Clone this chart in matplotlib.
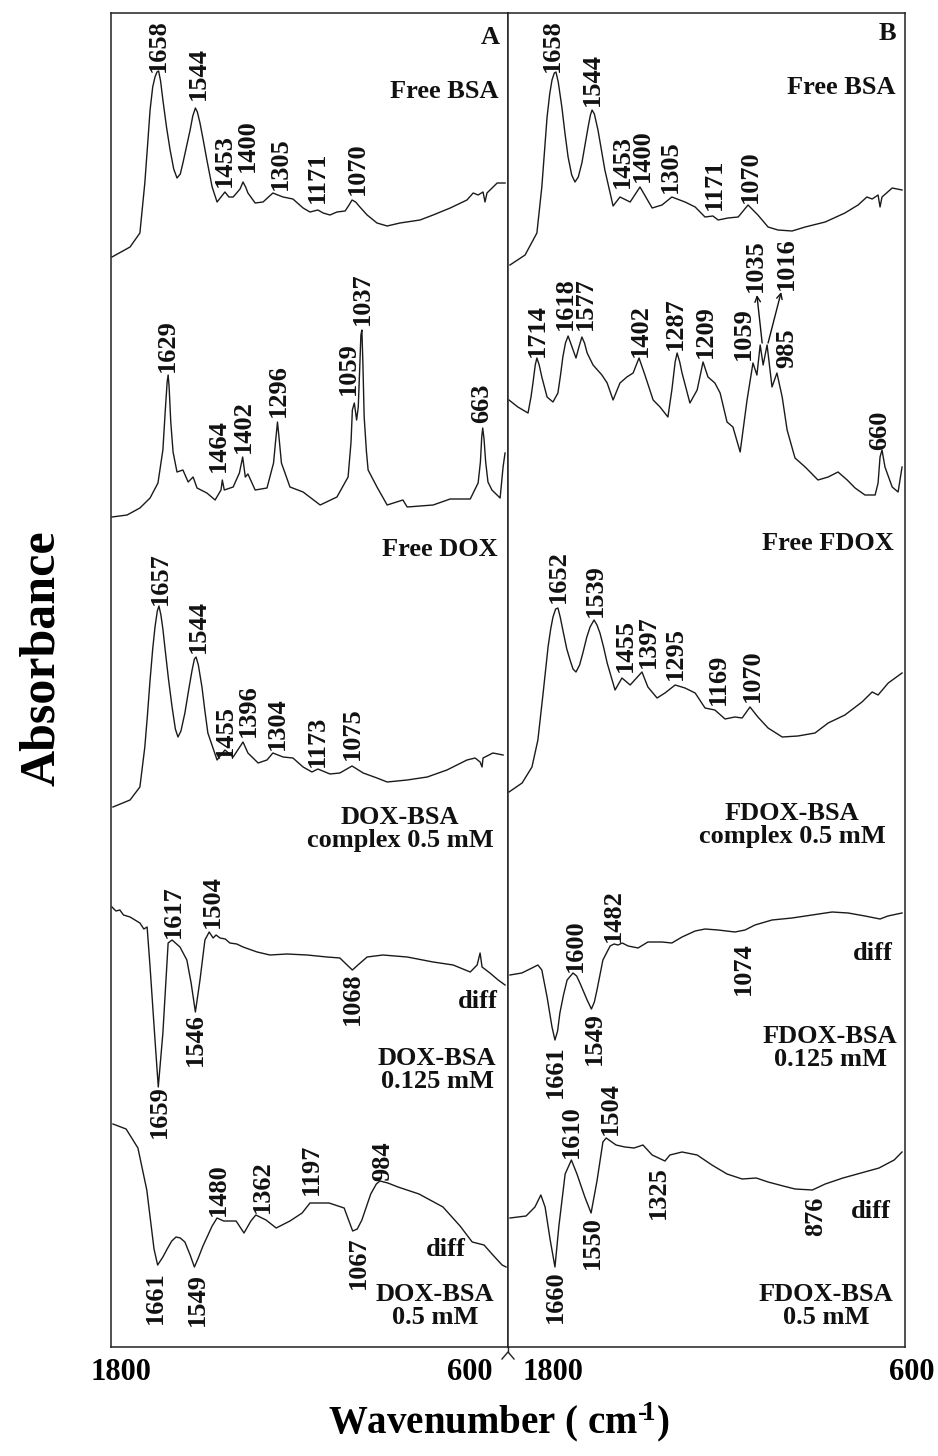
import matplotlib
matplotlib.use("Agg")
import matplotlib.pyplot as plt
from matplotlib.lines import Line2D

plt.rcParams['font.family'] = ['Liberation Serif', 'DejaVu Serif']
plt.rcParams['font.weight'] = 'bold'
plt.rcParams['mathtext.fontset'] = 'custom'
plt.rcParams['mathtext.rm'] = 'Liberation Serif:bold'
plt.rcParams['mathtext.default'] = 'rm'

# spectra: (wavenumber cm-1, stacked absorbance a.u.)
free_bsa_a = [(1800, 10.90), (1745, 11.00), (1715, 11.14), (1700, 11.64), (1692, 12.00), (1684, 12.37),
              (1676, 12.60), (1669, 12.70), (1663, 12.75), (1658, 12.76), (1652, 12.66), (1645, 12.47),
              (1634, 12.20), (1623, 11.97), (1612, 11.78), (1602, 11.69), (1592, 11.73), (1584, 11.84),
              (1572, 12.02), (1562, 12.17), (1554, 12.31), (1546, 12.39), (1540, 12.35), (1532, 12.24),
              (1521, 12.05), (1511, 11.87), (1495, 11.60), (1480, 11.45), (1468, 11.50), (1456, 11.55),
              (1444, 11.50), (1431, 11.50), (1410, 11.58), (1401, 11.65), (1393, 11.60), (1386, 11.54),
              (1364, 11.44), (1340, 11.45), (1320, 11.51), (1310, 11.54), (1295, 11.52), (1279, 11.50),
              (1249, 11.48), (1218, 11.39), (1197, 11.35), (1173, 11.37), (1157, 11.34), (1136, 11.32),
              (1115, 11.35), (1090, 11.36), (1078, 11.42), (1069, 11.47), (1058, 11.45), (1045, 11.40),
              (1023, 11.32), (993, 11.24), (962, 11.21), (923, 11.24), (862, 11.27), (822, 11.32),
              (770, 11.39), (719, 11.47), (700, 11.54), (685, 11.52), (670, 11.55), (664, 11.45),
              (658, 11.54), (627, 11.64), (603, 11.64)]

free_dox_a = [(1800, 8.30), (1754, 8.32), (1715, 8.39), (1684, 8.49), (1660, 8.64), (1645, 8.97),
              (1638, 9.35), (1632, 9.65), (1629, 9.72), (1626, 9.60), (1621, 9.25), (1614, 8.95),
              (1602, 8.75), (1584, 8.77), (1568, 8.65), (1553, 8.70), (1541, 8.59), (1511, 8.54),
              (1486, 8.47), (1468, 8.57), (1464, 8.67), (1458, 8.57), (1431, 8.60), (1412, 8.74),
              (1402, 8.90), (1394, 8.70), (1386, 8.73), (1364, 8.57), (1328, 8.59), (1308, 8.84),
              (1302, 9.05), (1296, 9.25), (1290, 9.05), (1284, 8.84), (1258, 8.60), (1218, 8.55),
              (1166, 8.42), (1115, 8.50), (1081, 8.70), (1072, 9.05), (1068, 9.37), (1062, 9.44),
              (1055, 9.27), (1050, 9.40), (1046, 9.75), (1042, 10.12), (1039, 10.17), (1036, 9.85),
              (1032, 9.30), (1025, 8.95), (1020, 8.77), (993, 8.60), (962, 8.42), (914, 8.47),
              (901, 8.40), (822, 8.42), (770, 8.48), (709, 8.48), (685, 8.64), (678, 8.85),
              (674, 9.10), (671, 9.19), (667, 9.08), (662, 8.85), (655, 8.65), (643, 8.57),
              (618, 8.49), (609, 8.80), (603, 8.94)]

dox_bsa_cplx_a = [(1797, 5.40), (1745, 5.47), (1715, 5.60), (1700, 6.00), (1692, 6.32), (1684, 6.67),
                  (1676, 6.98), (1669, 7.20), (1662, 7.36), (1657, 7.41), (1651, 7.32), (1645, 7.18),
                  (1639, 7.00), (1628, 6.68), (1617, 6.40), (1607, 6.18), (1599, 6.10), (1590, 6.16),
                  (1578, 6.34), (1566, 6.58), (1556, 6.77), (1549, 6.88), (1544, 6.90), (1537, 6.82),
                  (1526, 6.60), (1517, 6.36), (1508, 6.14), (1480, 5.87), (1456, 5.97), (1431, 5.90),
                  (1401, 6.05), (1386, 5.94), (1355, 5.84), (1328, 5.87), (1310, 5.94), (1279, 5.90),
                  (1249, 5.89), (1218, 5.80), (1191, 5.75), (1173, 5.78), (1136, 5.73), (1106, 5.74),
                  (1069, 5.81), (1035, 5.74), (993, 5.69), (962, 5.65), (901, 5.67), (840, 5.70),
                  (780, 5.77), (719, 5.87), (694, 5.89), (679, 5.85), (673, 5.80), (670, 5.89),
                  (640, 5.94), (609, 5.92)]

dox_diff_0125_a = [(1800, 4.40), (1788, 4.36), (1776, 4.37), (1765, 4.32), (1745, 4.30), (1730, 4.27),
                   (1715, 4.24), (1703, 4.18), (1693, 4.20), (1684, 3.80), (1669, 3.07), (1659, 2.60),
                   (1645, 3.14), (1629, 4.04), (1617, 4.07), (1593, 4.00), (1572, 3.87), (1559, 3.64),
                   (1546, 3.35), (1532, 3.67), (1517, 4.07), (1504, 4.15), (1492, 4.09), (1483, 4.12),
                   (1471, 4.09), (1455, 4.08), (1441, 4.04), (1420, 4.03), (1401, 4.00), (1358, 3.95),
                   (1319, 3.92), (1267, 3.93), (1206, 3.92), (1145, 3.90), (1106, 3.89), (1084, 3.82),
                   (1068, 3.77), (1051, 3.82), (1023, 3.90), (975, 3.92), (901, 3.90), (822, 3.85),
                   (761, 3.82), (709, 3.75), (688, 3.82), (679, 3.94), (673, 3.80), (649, 3.74),
                   (624, 3.67), (603, 3.62)]

dox_diff_05_a = [(1797, 2.23), (1757, 2.18), (1721, 1.99), (1694, 1.57), (1672, 0.98), (1661, 0.82),
                 (1645, 0.90), (1632, 0.98), (1618, 1.06), (1605, 1.10), (1592, 1.09), (1578, 1.05),
                 (1562, 0.92), (1549, 0.80), (1536, 0.90), (1523, 1.01), (1495, 1.21),
                 (1480, 1.29), (1460, 1.26), (1441, 1.26), (1422, 1.26), (1398, 1.14), (1377, 1.26),
                 (1362, 1.32), (1331, 1.27), (1300, 1.19), (1258, 1.26), (1221, 1.34), (1197, 1.44),
                 (1166, 1.44), (1139, 1.44), (1093, 1.39), (1075, 1.23), (1067, 1.16), (1053, 1.18),
                 (1039, 1.27), (1012, 1.53), (995, 1.63), (984, 1.66), (960, 1.64), (929, 1.60),
                 (865, 1.53), (792, 1.40), (740, 1.21), (703, 1.05), (667, 1.02), (640, 0.92),
                 (612, 0.82), (600, 0.80)]

free_bsa_b = [(1797, 10.82), (1751, 10.92), (1715, 11.14), (1700, 11.60), (1692, 11.95), (1684, 12.30),
              (1676, 12.53), (1669, 12.67), (1662, 12.74), (1657, 12.75), (1650, 12.65), (1639, 12.40),
              (1630, 12.15), (1620, 11.90), (1609, 11.72), (1599, 11.65), (1589, 11.70), (1578, 11.84),
              (1568, 12.03), (1559, 12.20), (1552, 12.32), (1547, 12.37), (1540, 12.33), (1529, 12.17),
              (1518, 11.96), (1508, 11.77), (1483, 11.41), (1462, 11.50), (1431, 11.45),
              (1401, 11.60), (1364, 11.39), (1334, 11.42), (1304, 11.50), (1264, 11.45), (1233, 11.40),
              (1203, 11.30), (1179, 11.31), (1163, 11.27), (1133, 11.29), (1102, 11.30), (1072, 11.42),
              (1042, 11.32), (1011, 11.20), (981, 11.17), (938, 11.16), (898, 11.20), (837, 11.25),
              (777, 11.34), (737, 11.42), (710, 11.50), (694, 11.48), (676, 11.52), (670, 11.40),
              (664, 11.50), (633, 11.59), (603, 11.57)]

free_fdox_b = [(1800, 9.47), (1773, 9.40), (1742, 9.34), (1733, 9.50), (1727, 9.64), (1720, 9.82),
               (1715, 9.89), (1708, 9.82), (1700, 9.70), (1684, 9.50), (1666, 9.45), (1651, 9.54),
               (1643, 9.72), (1636, 9.90), (1628, 10.04), (1620, 10.11), (1608, 10.00), (1596, 9.89),
               (1587, 10.00), (1578, 10.10), (1570, 10.04), (1562, 9.94), (1544, 9.82), (1517, 9.72),
               (1501, 9.64), (1483, 9.47), (1462, 9.64), (1441, 9.70), (1422, 9.74), (1404, 9.89),
               (1386, 9.72), (1361, 9.47), (1340, 9.40), (1316, 9.30), (1304, 9.57), (1294, 9.85),
               (1288, 9.94), (1280, 9.85), (1273, 9.74), (1249, 9.44), (1227, 9.57), (1209, 9.85),
               (1194, 9.70), (1173, 9.64), (1157, 9.54), (1136, 9.25), (1118, 9.20), (1096, 8.95),
               (1075, 9.47), (1057, 9.84), (1045, 9.72), (1035, 10.02), (1026, 9.82), (1014, 10.02),
               (999, 9.60), (984, 9.74), (968, 9.50), (953, 9.17), (929, 8.89), (898, 8.80),
               (859, 8.67), (828, 8.70), (798, 8.75), (770, 8.67), (746, 8.59), (716, 8.52),
               (685, 8.52), (676, 8.64), (670, 8.90), (664, 8.97), (655, 8.80), (633, 8.60),
               (615, 8.55), (603, 8.80)]

fdox_bsa_cplx_b = [(1800, 5.55), (1760, 5.64), (1730, 5.80), (1712, 6.07), (1696, 6.54), (1681, 7.00),
                   (1673, 7.18), (1666, 7.30), (1658, 7.38), (1651, 7.39), (1644, 7.30), (1636, 7.17),
                   (1624, 6.98), (1614, 6.87), (1605, 6.78), (1596, 6.75), (1585, 6.82), (1575, 6.94),
                   (1563, 7.10), (1553, 7.20), (1541, 7.27), (1532, 7.22), (1523, 7.14), (1512, 7.00),
                   (1501, 6.84), (1477, 6.57), (1456, 6.69),
                   (1431, 6.62), (1395, 6.75), (1377, 6.60), (1349, 6.49), (1325, 6.54), (1294, 6.62),
                   (1264, 6.59), (1233, 6.54), (1203, 6.39), (1173, 6.37), (1142, 6.28), (1112, 6.30),
                   (1090, 6.29), (1066, 6.40), (1042, 6.30), (1011, 6.19), (968, 6.10), (920, 6.11),
                   (868, 6.14), (828, 6.24), (777, 6.32), (725, 6.45), (694, 6.55), (676, 6.52),
                   (645, 6.64), (603, 6.74)]

fdox_diff_0125_b = [(1797, 3.72), (1761, 3.74), (1730, 3.79), (1712, 3.82), (1700, 3.77), (1684, 3.50),
                    (1669, 3.20), (1660, 3.07), (1652, 3.16), (1645, 3.34), (1634, 3.52), (1623, 3.67),
                    (1605, 3.74), (1594, 3.71), (1584, 3.64), (1562, 3.47), (1549, 3.38), (1540, 3.45),
                    (1532, 3.57), (1514, 3.87), (1492, 4.01), (1480, 4.03), (1468, 4.02), (1455, 4.04),
                    (1437, 4.01), (1407, 3.99), (1377, 4.05), (1334, 4.05), (1304, 4.04), (1273, 4.10),
                    (1233, 4.16), (1203, 4.18), (1163, 4.17), (1112, 4.15), (1081, 4.17), (1051, 4.22),
                    (999, 4.27), (938, 4.29), (877, 4.32), (816, 4.35), (767, 4.34), (716, 4.31),
                    (670, 4.28), (646, 4.31), (603, 4.34)]

fdox_diff_05_b = [(1797, 1.29), (1748, 1.31), (1721, 1.40), (1703, 1.52), (1690, 1.40), (1675, 1.08),
                  (1660, 0.80), (1648, 1.21), (1629, 1.73), (1610, 1.87), (1593, 1.73), (1569, 1.50),
                  (1550, 1.34), (1532, 1.66), (1514, 2.05), (1504, 2.09), (1474, 2.02), (1447, 2.00),
                  (1419, 1.99), (1392, 2.02), (1364, 1.92), (1325, 1.86), (1310, 1.92), (1273, 1.95),
                  (1227, 1.92), (1182, 1.82), (1136, 1.73), (1090, 1.68), (1047, 1.69), (1011, 1.65),
                  (965, 1.61), (929, 1.58), (876, 1.57), (837, 1.63), (783, 1.69), (728, 1.74),
                  (673, 1.79), (627, 1.87), (603, 1.95)]

# peak labels: (text, wavenumber, a.u., side)
peaks_a = [("1658", 1660, 12.75, "up"), ("1544", 1538, 12.47, "up"), ("1453", 1459, 11.60, "up"),
           ("1400", 1389, 11.75, "up"), ("1305", 1288, 11.57, "up"), ("1171", 1173, 11.44, "up"),
           ("1070", 1054, 11.52, "up"),
           ("1629", 1632, 9.75, "up"), ("1464", 1477, 8.75, "up"), ("1402", 1401, 8.94, "up"),
           ("1296", 1294, 9.30, "up"), ("1059", 1081, 9.52, "up"), ("1037", 1038, 10.22, "up"),
           ("663", 673, 9.24, "up"),
           ("1657", 1654, 7.42, "up"), ("1544", 1538, 6.94, "up"), ("1455", 1456, 5.89, "up"),
           ("1396", 1386, 6.10, "up"), ("1304", 1297, 5.97, "up"), ("1173", 1173, 5.80, "up"),
           ("1075", 1069, 5.87, "up"),
           ("1659", 1657, 2.62, "down"), ("1617", 1614, 4.09, "up"), ("1504", 1495, 4.19, "up"),
           ("1546", 1547, 3.34, "down"), ("1068", 1069, 3.75, "down"),
           ("1661", 1669, 0.76, "down"), ("1549", 1541, 0.74, "down"), ("1480", 1477, 1.31, "up"),
           ("1362", 1343, 1.34, "up"), ("1197", 1194, 1.52, "up"), ("984", 975, 1.66, "up"),
           ("1067", 1051, 1.11, "down")]

peaks_b = [("1658", 1669, 12.75, "up"), ("1544", 1547, 12.41, "up"), ("1453", 1456, 11.59, "up"),
           ("1400", 1395, 11.65, "up"), ("1305", 1310, 11.54, "up"), ("1171", 1173, 11.37, "up"),
           ("1070", 1066, 11.44, "up"),
           ("1714", 1715, 9.90, "up"), ("1618", 1629, 10.17, "up"), ("1577", 1568, 10.17, "up"),
           ("1402", 1401, 9.90, "up"), ("1287", 1294, 9.97, "up"), ("1209", 1203, 9.89, "up"),
           ("1059", 1087, 9.87, "up"), ("985", 953, 9.79, "up"), ("660", 670, 8.97, "up"),
           ("1035", 1051, 10.55, "up"), ("1016", 956, 10.57, "up"),
           ("1652", 1651, 7.44, "up"), ("1539", 1538, 7.30, "up"), ("1455", 1447, 6.75, "up"),
           ("1397", 1377, 6.79, "up"), ("1295", 1294, 6.67, "up"), ("1169", 1163, 6.42, "up"),
           ("1070", 1060, 6.45, "up"),
           ("1661", 1660, 3.02, "down"), ("1600", 1599, 3.75, "up"), ("1549", 1541, 3.35, "down"),
           ("1482", 1483, 4.05, "up"), ("1074", 1087, 4.05, "down"),
           ("1660", 1660, 0.77, "down"), ("1610", 1611, 1.89, "up"), ("1550", 1547, 1.31, "down"),
           ("1504", 1492, 2.12, "up"), ("1325", 1346, 1.81, "down"), ("876", 865, 1.50, "down")]

# arrows in panel B: (from wn, from au, to wn, to au)
arrows_b = [(1029, 10.04, 1045, 10.52), (1011, 10.04, 971, 10.55)]

# sample names: (text, wavenumber, a.u., ha)
names_a = [("A", 649, 13.10, "center"), ("Free BSA", 624, 12.55, "right"), ("Free DOX", 627, 7.97, "right"),
           ("DOX-BSA\ncomplex 0.5 mM", 923, 5.18, "center"), ("diff", 624, 3.45, "right"),
           ("DOX-BSA\n0.125 mM", 810, 2.77, "center"), ("diff", 722, 0.98, "right"),
           ("DOX-BSA\n0.5 mM", 816, 0.41, "center")]
names_b = [("B", 649, 13.14, "center"), ("Free BSA", 624, 12.59, "right"), ("Free FDOX", 627, 8.04, "right"),
           ("FDOX-BSA\ncomplex 0.5 mM", 938, 5.22, "center"), ("diff", 630, 3.94, "right"),
           ("FDOX-BSA\n0.125 mM", 822, 2.99, "center"), ("diff", 636, 1.36, "right"),
           ("FDOX-BSA\n0.5 mM", 834, 0.41, "center")]

W, H = 938, 1456
fig = plt.figure(figsize=(W / 100, H / 100), dpi=100)


def fx(px):
    return px / W


def fy(py):
    return 1 - py / H


ax_a = fig.add_axes([fx(111), fy(1347), fx(508) - fx(111), fy(13) - fy(1347)])
ax_b = fig.add_axes([fx(508), fy(1347), fx(905) - fx(508), fy(13) - fy(1347)])

panels = [(ax_a, [free_bsa_a, free_dox_a, dox_bsa_cplx_a, dox_diff_0125_a, dox_diff_05_a], peaks_a, names_a),
          (ax_b, [free_bsa_b, free_fdox_b, fdox_bsa_cplx_b, fdox_diff_0125_b, fdox_diff_05_b], peaks_b, names_b)]

for ax, spectra, peaks, names in panels:
    for s in spectra:
        ax.plot([p[0] for p in s], [p[1] for p in s], color="#1a1a1a", lw=1.0, solid_joinstyle="round")
    for txt, wn, y, side in peaks:
        ax.text(wn, y, txt, rotation=90, ha="center", va="bottom" if side == "up" else "top",
                fontsize=19, fontweight="bold", color="#111111")
    for txt, wn, y, ha in names:
        ax.text(wn, y, txt, ha=ha, va="center", multialignment="center", fontsize=19,
                fontweight="bold", color="#111111", linespacing=1.05)
    ax.set_xlim(1803, 594)
    ax.set_ylim(0, 13.34)
    ax.set_xticks([])
    ax.set_yticks([])
    for sp in ax.spines.values():
        sp.set_linewidth(1.1)
        sp.set_color("#222222")

for x0, y0, x1, y1 in arrows_b:
    ax_b.annotate("", xy=(x1, y1), xytext=(x0, y0),
                  arrowprops=dict(arrowstyle="->", lw=1.0, color="#111111", shrinkA=0, shrinkB=0))

# break mark under the divider
fig.add_artist(Line2D([fx(508), fx(508)], [fy(1347), fy(1352)], color="#222222", lw=1.0))
fig.add_artist(Line2D([fx(502), fx(508), fx(514)], [fy(1359), fy(1352), fy(1359)], color="#222222", lw=1.0))

# axis labels
for txt, px in [("1800", 121), ("600", 470), ("1800", 553), ("600", 912)]:
    fig.text(fx(px), fy(1372), txt, ha="center", va="center", fontsize=22, fontweight="bold")
fig.text(fx(499), fy(1422), "Wavenumber ( cm$^{\u2010\\!1}$)", ha="center", va="center",
         fontsize=28, fontweight="bold")
fig.text(fx(42), fy(658), "Absorbance", rotation=90, ha="center", va="center", fontsize=36, fontweight="bold")

fig.savefig("out.png", dpi=100)
